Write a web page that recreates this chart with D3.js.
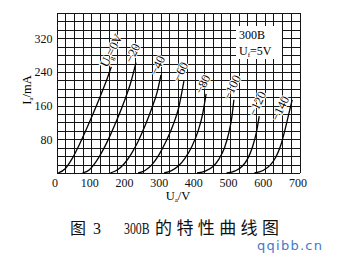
<!DOCTYPE html>
<html>
<head>
<meta charset="utf-8">
<script src="https://cdn.jsdelivr.net/npm/d3@7"></script>
<style>
  body { margin: 0; background: #fff; }
  svg { display: block; }
</style>
</head>
<body>
<script>
// plate voltage ticks and anode current ticks
const xTicks = [0, 100, 200, 300, 400, 500, 600, 700];
const yTicks = [80, 160, 240, 320];

// grid voltages of each curve
const gridVolts = ["U_g=0V", "−20", "−40", "−60", "−80", "−100", "−120", "−140"];

// [Ua (V), Ia (mA)]
const ug0   = [[5,0],[25,10],[45,34],[65,66],[85,102],[105,140],[125,180],[145,222],[158,252]];
const ug20  = [[75,0],[95,8],[115,28],[135,56],[155,90],[175,128],[195,170],[215,218],[229,262]];
const ug40  = [[155,0],[175,7],[195,22],[215,45],[235,75],[255,112],[275,155],[290,192],[301,233]];
const ug60  = [[235,0],[255,6],[275,20],[295,43],[315,74],[335,112],[352,155],[367,218]];
const ug80  = [[310,0],[330,5],[350,16],[370,35],[390,63],[408,100],[421,140],[431,188]];
const ug100 = [[405,0],[430,5],[450,15],[468,33],[484,60],[496,94],[505,132],[511,174]];
const ug120 = [[490,0],[515,5],[535,16],[552,36],[565,63],[576,97],[584,135]];
const ug140 = [[570,0],[595,6],[615,18],[632,38],[646,66],[658,102],[669,140],[679,174]];

const curves = [ug0, ug20, ug40, ug60, ug80, ug100, ug120, ug140];

const width = 342, height = 260;
const svg = d3.select("body").append("svg")
    .attr("width", width)
    .attr("height", height);

const x = d3.scaleLinear().domain([0, 700]).range([56.5, 299.5]);
const y = d3.scaleLinear().domain([0, 380]).range([173, 13]);

// grid, 25 V by 20 mA
const grid = svg.append("g")
    .attr("stroke", "#141414")
    .attr("stroke-width", 1)
    .attr("shape-rendering", "crispEdges");

grid.selectAll("line.v")
  .data(d3.range(0, 701, 25))
  .join("line")
    .attr("class", "v")
    .attr("x1", d => Math.round(x(d)) + 0.5)
    .attr("x2", d => Math.round(x(d)) + 0.5)
    .attr("y1", y(380))
    .attr("y2", y(0));

grid.selectAll("line.h")
  .data(d3.range(0, 381, 20))
  .join("line")
    .attr("class", "h")
    .attr("x1", x(0))
    .attr("x2", x(700))
    .attr("y1", d => Math.round(y(d)) + 0.5)
    .attr("y2", d => Math.round(y(d)) + 0.5);

// axes (labels only)
svg.append("g")
    .attr("transform", `translate(-2,${y(0)})`)
    .call(d3.axisBottom(x).tickValues(xTicks).tickSize(0).tickPadding(5));
svg.append("g")
    .attr("transform", `translate(${x(0)},0)`)
    .call(d3.axisLeft(y).tickValues(yTicks).tickSize(0).tickPadding(4));

svg.selectAll(".domain").remove();
svg.selectAll(".tick text")
    .attr("font-family", "Liberation Serif, serif")
    .attr("font-size", 12)
    .attr("fill", "#111");

// legend box
const lg = svg.append("g");
lg.append("rect")
    .attr("x", 236).attr("y", 26)
    .attr("width", 46).attr("height", 33)
    .attr("fill", "#fff");
lg.append("text")
    .attr("x", 239).attr("y", 39)
    .attr("font-family", "Liberation Serif, serif")
    .attr("font-size", 12)
    .text("300B");
const uf = lg.append("text")
    .attr("x", 239).attr("y", 55)
    .attr("font-family", "Liberation Serif, serif")
    .attr("font-size", 12);
uf.append("tspan").text("U");
uf.append("tspan").attr("font-size", 7).attr("dy", 2).text("f");
uf.append("tspan").attr("dy", -2).text("=5V");

// curves
const line = d3.line()
    .x(d => x(d[0]))
    .y(d => y(d[1]))
    .curve(d3.curveMonotoneX);

svg.append("g")
  .selectAll("path")
  .data(curves)
  .join("path")
    .attr("d", line)
    .attr("fill", "none")
    .attr("stroke", "#000")
    .attr("stroke-width", 1.3);

// curve labels, written along the end of each curve
const labels = svg.append("g")
  .selectAll("text")
  .data(curves)
  .join("text")
    .attr("transform", (d, i) => {
      const p = d[d.length - 1];
      // the last label sits beside its curve, not above it
      const dx = i === 7 ? -14 : -4;
      const dy = i === 7 ? 22 : 1;
      return `translate(${x(p[0]) + dx},${y(p[1]) + dy}) rotate(-64)`;
    })
    .attr("font-family", "Liberation Serif, serif")
    .attr("font-size", 12.5)
    .attr("fill", "#000")
    .attr("paint-order", "stroke")
    .attr("stroke", "#fff")
    .attr("stroke-width", 2);

labels.each(function(d, i) {
  const t = d3.select(this);
  if (i === 0) {
    t.append("tspan").text("U");
    t.append("tspan").attr("font-size", 7).attr("dy", 2).text("g");
    t.append("tspan").attr("dy", -2).text("=0V");
  } else {
    t.text(gridVolts[i]);
  }
});

// axis titles
const yt = svg.append("text")
    .attr("transform", "translate(31,90) rotate(-90)")
    .attr("text-anchor", "middle")
    .attr("font-family", "Liberation Serif, serif")
    .attr("font-size", 12.5);
yt.append("tspan").text("I");
yt.append("tspan").attr("font-size", 7).attr("dy", 2).text("a");
yt.append("tspan").attr("dy", -2).text("/mA");

const xt = svg.append("text")
    .attr("x", 178).attr("y", 200)
    .attr("text-anchor", "middle")
    .attr("font-family", "Liberation Serif, serif")
    .attr("font-size", 12.5);
xt.append("tspan").text("U");
xt.append("tspan").attr("font-size", 7).attr("dy", 2).text("a");
xt.append("tspan").attr("dy", -2).text("/V");

// caption
const cap = svg.append("g")
    .attr("font-family", "Liberation Serif, Noto Sans CJK SC, serif")
    .attr("font-size", 16)
    .attr("fill", "#111");
cap.append("text").attr("x", 70).attr("y", 234).text("图");
cap.append("text").attr("x", 93).attr("y", 234).text("3");
cap.append("text")
    .attr("transform", "translate(124,234) scale(0.74,1)")
    .text("300B");
cap.append("text").attr("x", 155).attr("y", 234)
    .attr("textLength", 124).attr("lengthAdjust", "spacing")
    .attr("font-size", 17)
    .text("的特性曲线图");

// watermark
svg.append("text")
    .attr("x", 257).attr("y", 250)
    .attr("font-family", "DejaVu Sans, sans-serif")
    .attr("font-size", 13)
    .attr("fill", "#4378c8")
    .attr("textLength", 65)
    .text("qqibb.cn");
</script>
</body>
</html>
